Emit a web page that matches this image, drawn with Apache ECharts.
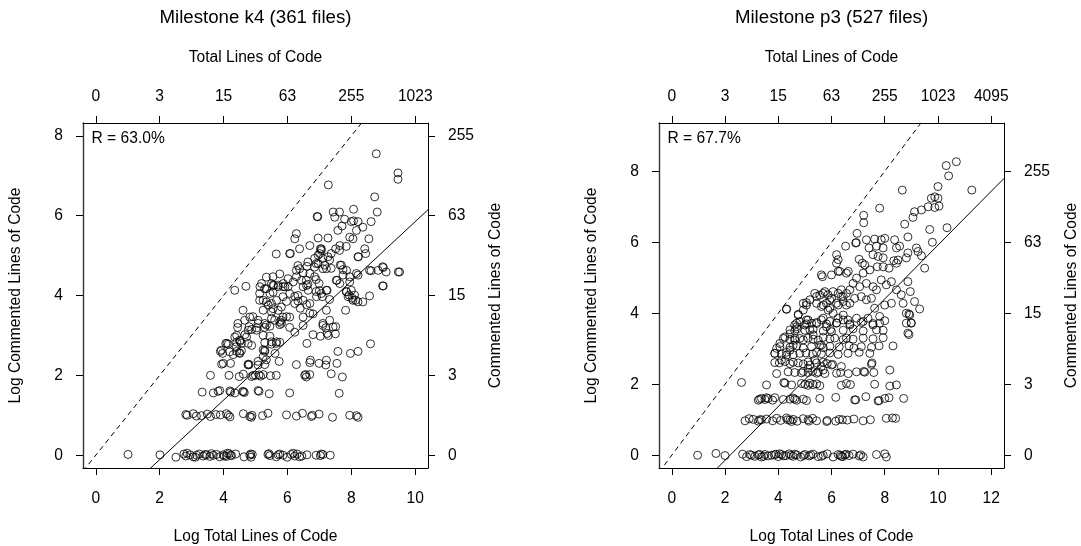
<!DOCTYPE html>
<html>
<head>
<meta charset="utf-8">
<script src="https://cdn.jsdelivr.net/npm/echarts@6/dist/echarts.min.js"></script>
<style>
  html, body { margin: 0; padding: 0; background: #fff; }
  #chart { width: 1081px; height: 546px; }
</style>
</head>
<body>
<div id="chart"></div>
<script>
// Panel headings and correlation notes
const panelTitles = ['Milestone k4 (361 files)', 'Milestone p3 (527 files)'];
const correlationLabels = ['R = 63.0%', 'R = 67.7%'];

// Axis limits (log2 scale) and tick positions
const xLimits = [[0, 10], [0, 12]];
const yLimits = [[0, 8], [0, 9]];
const xTicks = [[0, 2, 4, 6, 8, 10], [0, 2, 4, 6, 8, 10, 12]];
const yTicks = [[0, 2, 4, 6, 8], [0, 2, 4, 6, 8]];

// Fitted line per panel: [slope, intercept]
const fitLines = [[0.745, -1.60], [0.758, -1.66]];

// Files of milestone k4: [log2(total+1), log2(commented+1)], jittered
const k4Points = [
  [1.01,0.02],[2.01,0.01],[2.51,-0.05],[2.76,0.03],[2.82,-0.02],[2.86,0.05],[2.95,0.01],[3.05,-0.04],[3.12,-0.05],[3.16,0.0],
  [3.24,0.03],[3.36,-0.02],[3.42,0.02],[3.47,0.01],[3.57,-0.03],[3.62,0.04],[3.68,0.0],[3.78,0.02],[3.88,-0.04],[3.99,0.01],
  [4.02,-0.02],[4.09,-0.03],[4.12,0.05],[4.18,0.04],[4.22,0.0],[4.25,-0.01],[4.38,0.03],[4.64,-0.04],[4.82,0.0],[4.85,0.03],
  [4.86,-0.05],[4.90,0.02],[5.39,0.02],[5.42,0.04],[5.45,-0.01],[5.65,-0.04],[5.71,0.01],[5.76,0.03],[5.86,0.0],[5.99,-0.05],
  [6.12,0.02],[6.18,0.05],[6.23,-0.02],[6.30,0.03],[6.38,-0.04],[6.45,-0.02],[6.61,0.01],[6.90,0.0],[7.03,-0.01],[7.06,0.03],
  [7.11,0.02],[7.34,0.0],
  [2.82,1.02],[2.86,1.0],[3.05,1.04],[3.15,0.98],[3.31,0.99],[3.49,1.03],[3.59,0.97],[3.76,1.02],[3.90,1.01],[4.09,1.04],
  [4.15,1.0],[4.20,0.96],[4.62,1.04],[4.82,0.97],[4.87,0.95],[4.89,1.0],[5.22,0.99],[5.39,1.05],[5.97,1.01],[6.28,0.98],
  [6.47,1.05],[6.75,0.97],[6.78,1.0],[6.99,1.03],[7.41,0.95],[7.95,1.0],[8.16,0.99],[8.21,0.95],
  [3.33,1.58],[3.68,1.56],[3.83,1.6],[3.88,1.62],[4.20,1.61],[4.22,1.58],[4.35,1.56],[4.60,1.6],[4.62,1.59],[4.65,1.57],
  [5.08,1.62],[5.11,1.6],[5.43,1.54],[6.07,1.56],[7.62,1.55],
  [3.59,2.0],[4.17,2.0],[4.49,1.97],[4.62,2.03],[4.88,1.97],[4.93,2.0],[5.0,2.0],[5.11,2.01],[5.16,1.98],[5.24,2.02],
  [5.47,1.99],[5.65,2.0],[6.54,2.0],[6.57,2.02],[6.59,1.96],[6.70,2.02],[7.37,2.04],[7.72,1.96],
  [3.94,2.28],[3.99,2.3],[4.22,2.3],[4.77,2.28],[4.80,2.27],[5.08,2.35],[5.29,2.27],[5.74,2.35],[6.28,2.27],[6.70,2.32],
  [6.72,2.38],[6.99,2.3],[7.20,2.26],[7.22,2.38],[7.55,2.3],
  [3.90,2.6],[3.97,2.55],[4.30,2.52],[4.41,2.6],[4.49,2.57],[4.56,2.62],[5.24,2.64],[5.29,2.6],[7.58,2.6],[7.97,2.55],[8.21,2.6],
  [4.07,2.8],[4.15,2.78],[4.41,2.83],[4.51,2.85],[4.77,2.8],[4.88,2.75],[5.29,2.82],[5.50,2.78],[5.65,2.8],[5.76,2.83],
  [6.61,2.8],[8.60,2.79],
  [4.41,3.0],[4.67,3.02],[4.72,2.96],[5.24,3.0],[5.45,2.98],[6.23,3.08],[6.80,3.02],[7.03,2.98],[7.24,3.05],[7.28,3.0],[7.50,3.04],
  [4.44,3.2],[4.80,3.22],[4.88,3.15],[5.04,3.19],[5.29,3.2],[5.45,3.23],[5.76,3.27],[5.81,3.3],[6.07,3.2],[6.49,3.25],
  [7.11,3.25],[7.20,3.19],[7.51,3.22],
  [4.35,2.96],[4.51,2.88],[4.77,3.13],[5.03,3.13],[4.11,2.80],[3.93,2.63],[4.19,2.59],[4.40,2.72],[4.51,2.55],[4.56,2.80],
  [4.77,2.26],[5.08,2.26],[5.29,2.63],[5.50,2.84],[5.66,2.84],[5.24,2.47],[5.34,2.39],[5.61,2.55],
  [4.45,3.30],[4.66,3.38],[5.08,3.30],[5.34,3.26],[5.50,3.43],[4.92,3.47],[5.81,3.38],[5.97,3.47],[4.61,3.63],[5.55,3.67],
  [5.71,3.63],[5.40,3.76],[5.24,3.88],[5.13,4.05],[5.55,4.08],[5.34,4.17],[5.71,4.22],[5.50,4.30],[5.87,4.30],[5.34,4.46],
  [4.82,3.46],[5.08,3.38],[5.29,3.30],[5.60,3.38],[5.76,3.34],[5.86,3.46],[6.07,3.46],
  [5.13,3.88],[5.34,3.84],[5.50,3.80],[5.66,3.88],[5.81,3.71],[5.24,3.63],[5.50,3.59],
  [5.19,4.30],[5.29,4.17],[5.45,4.05],[5.55,4.26],[5.71,4.26],[5.86,4.22],[6.02,4.22],
  [5.55,4.47],[5.76,4.54],[4.35,4.13],[4.70,4.23],
  [6.28,4.47],[6.38,4.67],[6.59,4.38],[6.70,4.55],[6.85,4.71],[6.96,4.80],[7.11,4.67],
  [6.18,4.34],[6.49,4.22],[6.65,4.13],[6.33,4.00],[6.49,3.88],[6.70,3.80],[6.91,3.97],[7.06,4.05],[7.22,4.13],
  [6.07,5.05],[6.38,5.17],[6.70,5.25],[6.96,5.01],[7.06,5.17],[6.23,5.42],[6.28,5.55],
  [6.85,4.93],[7.27,4.97],[7.17,4.76],[7.64,5.25],[7.95,5.46],[8.22,4.97],[8.42,5.17],
  [7.69,4.76],[7.85,4.63],[8.16,4.55],[8.62,4.62],[8.98,4.72],[9.09,4.59],[9.51,4.59],
  [7.95,4.34],[8.0,4.13],[8.10,4.01],[8.05,3.88],[8.21,3.84],[8.36,3.84],[8.57,3.99],
  [7.53,4.38],[7.64,4.30],[7.74,4.51],[7.32,3.90],[7.22,3.63],[7.11,3.30],[7.32,3.38],[7.43,3.21],
  [7.85,4.09],[7.90,3.97],[7.82,3.63],[8.98,4.24],
  [8.78,7.55],[9.46,7.07],[9.46,6.91],[7.28,6.77],[8.73,6.47],[8.81,6.09],[8.07,6.16],[6.93,5.98],[6.95,5.97],[7.43,6.09],
  [7.63,6.09],[7.48,5.96],[7.79,5.91],[8.0,5.85],[8.07,5.87],[8.21,5.85],[8.36,5.71],[8.62,5.85],[7.58,5.63],[7.71,5.74],
  [8.16,5.63],[8.05,5.42],[8.55,5.42],[6.96,5.44],[7.27,5.44],[7.03,5.17],[7.06,5.13],[7.51,5.17],[7.84,5.23],[8.45,5.05],
  [8.21,4.97],[5.65,5.04],[6.09,5.05],[7.01,5.05],[7.37,5.05],[7.63,5.13],[7.11,4.93],[7.32,4.89],[6.90,4.80],[6.64,4.84],
  [6.33,4.75],[6.61,4.73],[7.22,4.67],[7.37,4.68],[7.65,4.76],[7.74,4.65],[6.28,4.63],[6.49,4.57],[7.95,4.47],[8.21,4.51],
  [8.57,4.63],[8.84,4.63],[9.0,4.70],[9.47,4.59],[6.02,4.42],[6.44,4.38],[6.60,4.25],[6.64,4.28],[6.85,4.47],[6.90,4.40],
  [6.99,4.30],[7.0,4.12],[6.9,4.10],[7.24,4.13],[7.55,4.38],[7.84,4.10],[7.93,4.01],[8.03,3.93],[8.14,3.88],[9.0,4.24],
  [7.09,3.97],[5.14,4.22],[5.57,4.25],[5.92,4.22],[6.07,4.05],[6.23,3.98],[6.33,3.86],[5.86,3.97],[5.97,3.85],[6.23,3.80],
  [6.40,3.68],[6.60,3.77],[6.70,3.56],[6.49,3.46],[6.80,3.54]
];

// Files of milestone p3: [log2(total+1), log2(commented+1)], jittered
const p3Points = [
  [0.97,0.0],[1.66,0.05],[2.0,-0.01],[2.66,0.03],[2.81,-0.04],[2.93,0.02],[3.12,-0.03],[3.25,0.01],[3.37,-0.05],[3.50,0.02],
  [3.62,-0.02],[3.75,0.0],[3.91,0.03],[4.0,-0.04],[4.12,0.02],[4.29,-0.01],[4.41,0.04],[4.56,-0.03],[4.69,0.01],[4.84,-0.05],
  [5.0,0.02],[5.16,-0.02],[5.31,0.03],[5.50,-0.04],[5.69,0.0],[5.84,0.04],[6.06,-0.05],[6.25,0.02],[6.37,-0.03],[6.50,0.01],
  [6.66,-0.01],[6.81,0.03],[7.04,-0.02],[7.19,-0.05],[7.69,0.02],[8.0,0.04],[8.06,-0.05],
  [3.0,0.0],[3.30,0.02],[3.45,-0.03],[3.85,0.01],[4.05,0.04],[4.20,-0.02],[4.48,0.0],[4.62,0.03],[4.95,-0.01],[5.22,0.01],
  [5.62,-0.03],[6.33,0.0],[6.42,-0.04],[6.55,0.03],[7.10,0.01],
  [2.75,0.97],[2.91,1.03],[3.06,1.01],[3.25,0.96],[3.37,1.0],[3.56,1.02],[3.79,0.97],[3.94,1.04],[4.09,0.98],[4.31,1.05],
  [4.44,0.99],[4.56,1.01],[4.71,0.96],[4.94,1.03],[5.12,1.0],[5.29,1.04],[5.44,0.97],[5.84,0.98],[6.16,0.96],[6.29,1.01],
  [6.41,1.0],[6.59,0.99],[6.84,1.02],[7.19,0.97],[7.46,1.0],[8.06,1.04],[8.29,1.05],[8.41,1.04],
  [3.30,1.0],[4.35,1.0],[4.50,0.95],[5.15,0.96],[5.82,0.95],
  [3.25,1.55],[3.37,1.6],[3.50,1.57],[3.62,1.6],[3.79,1.55],[3.87,1.62],[4.19,1.57],[4.44,1.58],[4.56,1.61],[4.69,1.55],
  [4.94,1.58],[5.06,1.54],[5.56,1.6],[6.16,1.63],[6.91,1.56],[7.29,1.65],[7.75,1.53],[8.0,1.6],[8.16,1.62],[8.71,1.6],
  [3.30,1.58],[3.55,1.62],[4.62,1.58],[6.87,1.56],[7.79,1.54],
  [2.62,2.05],[3.56,1.98],[4.21,2.05],[4.25,2.03],[4.5,1.98],[4.87,2.02],[5.0,2.0],[5.12,1.97],[5.19,2.03],[5.31,1.99],
  [5.44,2.01],[5.56,1.96],[6.37,1.97],[6.56,2.02],[6.71,1.99],[7.62,2.0],[8.19,1.95],[8.44,1.98],
  [3.94,2.3],[4.37,2.35],[4.62,2.33],[4.87,2.32],[5.12,2.33],[5.29,2.36],[5.50,2.34],[5.75,2.3],[6.34,2.33],[6.63,2.3],
  [6.94,2.35],[7.21,2.36],[7.25,2.34],[7.59,2.33],[8.19,2.4],[6.04,2.56],[7.50,2.56],[7.52,2.6],
  [3.87,2.61],[4.04,2.6],[4.25,2.64],[4.44,2.58],[4.56,2.62],[4.75,2.6],[4.94,2.57],[5.12,2.63],[5.44,2.6],[5.69,2.62],[5.84,2.58],
  [3.87,2.87],[4.12,2.85],[4.31,2.9],[4.56,2.83],[4.81,2.87],[5.04,2.88],[5.29,2.85],[5.44,2.9],[5.62,2.86],[5.94,2.88],
  [6.25,2.84],[6.62,2.87],[7.04,2.9],[7.44,2.87],
  [4.06,3.06],[4.44,3.04],[4.69,3.08],[4.94,3.02],[5.25,3.06],[5.56,3.1],[5.69,3.03],[5.94,3.07],[6.29,3.05],[6.66,3.08],
  [6.84,3.02],[7.12,3.06],[7.50,3.04],[7.79,3.08],[8.31,3.08],
  [4.19,3.29],[4.44,3.26],[4.62,3.3],[4.94,3.25],[5.12,3.3],[5.31,3.27],[5.69,3.32],[5.94,3.28],[6.12,3.3],[6.44,3.26],
  [6.56,3.3],[6.81,3.27],[7.19,3.3],[7.56,3.28],[7.94,3.31],
  [4.44,3.53],[4.62,3.5],[4.71,3.56],[5.0,3.52],[5.31,3.55],[5.69,3.5],[5.96,3.54],[6.44,3.52],[6.81,3.56],[7.19,3.5],
  [7.69,3.53],[7.94,3.52],[8.87,3.44],
  [4.69,3.72],[5.06,3.7],[5.44,3.74],[5.81,3.7],[6.19,3.73],[6.69,3.7],[7.12,3.74],[7.56,3.71],[7.81,3.72],[8.81,3.72],
  [8.91,3.40],[8.91,3.98],[8.99,3.73],
  [10.69,8.27],[10.31,8.16],[10.40,7.87],[11.27,7.47],[8.66,7.47],[7.81,6.96],[10.0,7.57],[9.75,7.24],[9.88,7.28],[10.0,7.24],
  [10.04,7.02],[9.88,6.98],[9.63,7.0],[9.38,6.91],[9.12,6.86],[9.06,6.70],[8.75,6.51],[9.69,6.36],[10.34,6.41],[9.79,6.0],
  [8.87,6.15],[7.21,6.76],[7.21,6.55],[6.96,6.25],[6.91,5.98],[6.93,5.99],[6.53,5.89],[6.19,5.65],[6.25,5.51],[6.31,5.18],
  [6.63,5.18],[6.0,5.08],[5.66,5.03],[7.04,5.52],[7.16,5.41],[7.25,5.36],[7.31,6.07],[7.62,6.09],[7.87,6.07],[8.0,6.11],
  [7.41,5.84],[7.69,5.89],[7.94,5.84],[8.37,6.07],[8.44,5.84],[8.56,5.89],[8.87,5.70],[8.81,5.56],[9.19,5.84],[9.25,5.74],
  [9.38,5.62],[9.50,5.27],[7.56,5.65],[7.75,5.60],[7.94,5.56],[8.34,5.48],[8.44,5.41],[8.50,5.50],[7.72,5.31],[7.94,5.31],
  [8.16,5.27],[7.44,5.22],[7.19,5.13],[6.94,4.99],[6.81,4.84],[7.06,4.75],[6.69,4.66],[6.56,4.56],[6.44,4.47],[7.31,4.84],
  [7.56,4.75],[7.69,4.66],[7.87,4.94],[8.06,4.80],[8.25,4.89],[8.44,4.66],[8.62,4.52],[8.87,4.89],[8.96,4.61],[9.12,4.33],
  [8.81,4.00],[8.94,3.95],[9.0,3.72],[9.31,4.12],[8.25,4.28],[8.0,4.23],[7.81,3.91],[8.0,3.79],[7.62,4.14],[8.69,4.28],
  [6.06,4.61],[6.25,4.56],[6.37,4.66],[5.69,4.56],[5.87,4.52],[6.0,4.42],[5.44,4.47],[5.19,4.38],[4.94,4.28],[5.06,4.23],
  [5.44,4.28],[5.62,4.19],[5.81,4.28],[5.94,4.14],[6.25,4.23],[6.44,4.33],[6.69,4.28],[6.87,4.42],[7.12,4.47],[7.31,4.38],
  [7.5,4.42],[4.31,4.12],[4.75,3.95],[4.62,3.67],[5.06,3.81],[5.25,3.72],[5.69,3.86],[5.94,3.77],[6.19,3.72],[6.44,3.81],
  [6.69,3.67],[6.94,3.86],[7.19,3.77],[7.37,3.86],[7.56,3.67],
  [4.31,4.11],[4.75,3.97],[4.94,4.09],[5.06,4.30],[3.94,3.01],[4.06,3.15],[3.87,2.87],[4.12,2.68],[4.31,2.82],[4.44,2.96],
  [4.56,3.10],[4.25,3.33],[4.44,3.42],[4.62,3.24],[4.81,3.29],[4.69,3.62],[4.81,3.76],[5.0,3.67],[5.12,3.81],[5.19,3.53],
  [5.31,3.39],[5.50,3.24],[5.62,3.10],[5.44,3.71],[5.62,3.81],[5.81,3.62],[6.0,3.48],[5.37,4.56],[5.56,4.51],[5.75,4.61],
  [5.94,4.37],[6.19,4.28],[6.37,4.47],[6.56,4.23],[5.69,4.23],[5.87,4.09],[6.06,4.00],[6.25,3.86],[6.44,3.95],[6.62,3.81],
  [5.62,5.08],[6.25,5.18],[6.56,5.13],[6.19,5.41],[5.37,2.68],[5.62,2.50],[5.19,2.54],[4.94,2.36],[5.12,2.45],[5.44,2.31],
  [5.69,2.40],[6.0,2.54],[6.19,2.31],[6.37,2.50]
];

const FONT = '"Liberation Sans", Arial, Helvetica, sans-serif';
const BOX_TOP = 123, BOX_SIZE = 345;
const boxLefts = [83, 659];
const pointSets = [k4Points, p3Points];

// 4% padding around the limits, like R's default axis extension
const padRange = ([lo, hi]) => { const d = (hi - lo) * 0.04; return [lo - d, hi + d]; };
const countLabel = v => String(Math.round(Math.pow(2, v) - 1));

function makeAxis(gridIndex, position, range, ticks, formatter, name, labelMargin, nameGap, lineStyle) {
  return {
    type: 'value', gridIndex, position,
    min: range[0], max: range[1],
    axisLine: { show: true, onZero: false, lineStyle: lineStyle || { color: '#000', width: 1 } },
    axisTick: { show: true, inside: false, length: 7, customValues: ticks, lineStyle: { color: '#000', width: 1 } },
    axisLabel: { show: true, customValues: ticks, formatter, margin: labelMargin, color: '#000',
                 fontSize: 15.6, fontFamily: FONT },
    splitLine: { show: false },
    name, nameLocation: 'middle', nameGap,
    nameTextStyle: { color: '#000', fontSize: 15.6, fontFamily: FONT }
  };
}

const grids = [], xAxes = [], yAxes = [], series = [], graphics = [];
boxLefts.forEach((left, i) => {
  const xr = padRange(xLimits[i]);
  const yr = padRange(yLimits[i]);
  grids.push({ left, top: BOX_TOP, width: BOX_SIZE, height: BOX_SIZE,
               containLabel: false, outerBoundsMode: 'none' });
  xAxes.push(makeAxis(i, 'bottom', xr, xTicks[i], v => String(v), 'Log Total Lines of Code', 23, 61));
  xAxes.push(makeAxis(i, 'top', xr, xTicks[i], countLabel, 'Total Lines of Code', 18, 57));
  yAxes.push(makeAxis(i, 'left', yr, yTicks[i], v => String(v), 'Log Commented Lines of Code', 20, 59.5,
                      { color: '#333', width: 1.4 }));
  yAxes.push(makeAxis(i, 'right', yr, yTicks[i], countLabel, 'Commented Lines of Code', 20, 59.5));

  const xi = 2 * i, yi = 2 * i;
  series.push({
    type: 'scatter', xAxisIndex: xi, yAxisIndex: yi, data: pointSets[i],
    symbol: 'circle', symbolSize: 8,
    itemStyle: { color: 'rgba(0,0,0,0)', borderColor: '#000', borderWidth: 1 },
    silent: true
  });
  // diagonal: commented == total
  series.push({
    type: 'line', xAxisIndex: xi, yAxisIndex: yi, clip: true, silent: true,
    data: [[xr[0], xr[0]], [xr[1], xr[1]]], symbol: 'none',
    lineStyle: { color: '#000', width: 1, type: [5, 4] }
  });
  // fitted line
  const [m, b] = fitLines[i];
  series.push({
    type: 'line', xAxisIndex: xi, yAxisIndex: yi, clip: true, silent: true,
    data: [[xr[0], m * xr[0] + b], [xr[1], m * xr[1] + b]], symbol: 'none',
    lineStyle: { color: '#000', width: 1 }
  });

  graphics.push({
    type: 'text', x: left + BOX_SIZE / 2, y: 17.5,
    style: { text: panelTitles[i], fill: '#000', font: `18.7px ${FONT}`, align: 'center', verticalAlign: 'middle' }
  });
  graphics.push({
    type: 'text', x: left + 8.5, y: 138.5,
    style: { text: correlationLabels[i], fill: '#000', font: `15.6px ${FONT}`, align: 'left', verticalAlign: 'middle' }
  });
});

const chart = echarts.init(document.getElementById('chart'), null, { renderer: 'canvas' });
chart.setOption({
  animation: false,
  backgroundColor: '#fff',
  textStyle: { fontFamily: FONT },
  grid: grids,
  xAxis: xAxes,
  yAxis: yAxes,
  series,
  graphic: graphics
});
</script>
</body>
</html>
